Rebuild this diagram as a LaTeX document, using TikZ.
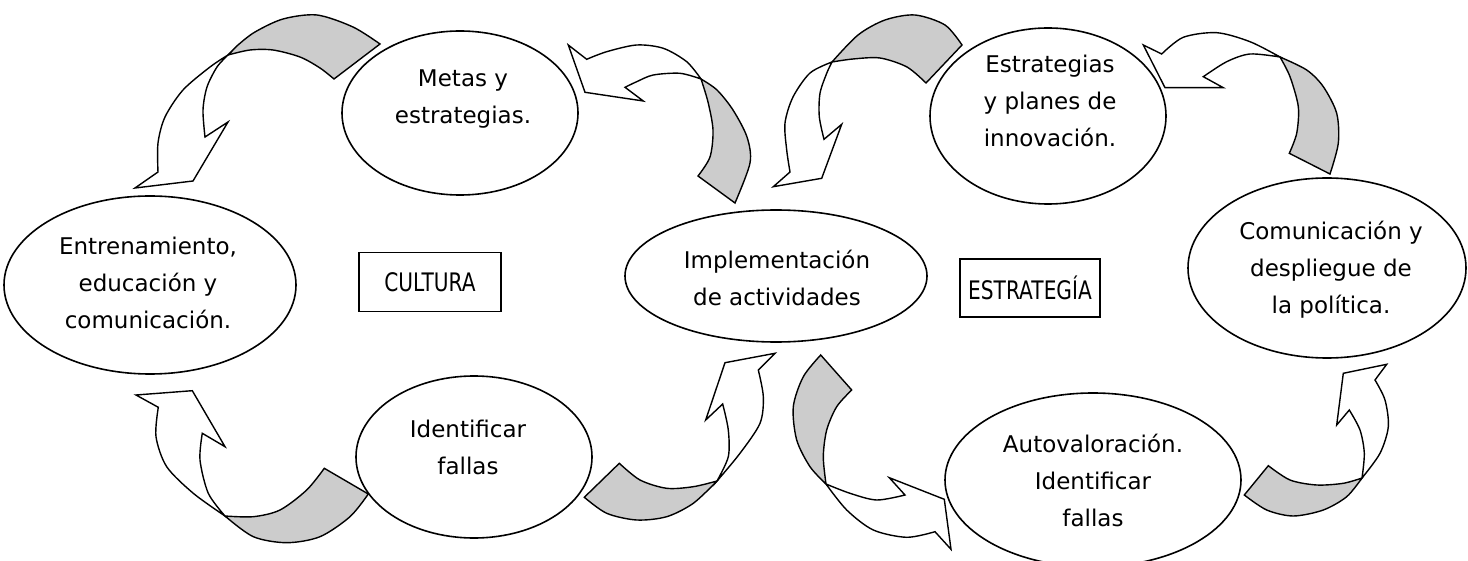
\documentclass[tikz,border=0pt]{standalone}
\usepackage{fontspec}
\setmainfont{DejaVu Sans}
\newfontfamily\headingfont[FakeStretch=0.79]{DejaVu Sans}
\usetikzlibrary{shapes.geometric}
\begin{document}
\begin{tikzpicture}[x=1pt,y=-1pt,
  bubble/.style={draw, line width=1.6pt, ellipse, inner sep=0pt, fill=white},
  bubbletext/.style={align=center, inner sep=0pt, font=\fontsize{23}{37}\selectfont},
  framebox/.style={draw, line width=1.5pt, inner sep=0pt, font=\headingfont\fontsize{25.5}{37}\selectfont},
  band/.style={draw, line width=1.4pt, line join=miter, fill=white},
  backband/.style={band, fill=black!20}]
\useasboundingbox (0,0) rectangle (1468,561);

% ellipses
\node[bubble, minimum width=236pt, minimum height=164pt] (metas)   at (460,113)  {};
\node[bubble, minimum width=292pt, minimum height=178pt] (entren)  at (150,285)  {};
\node[bubble, minimum width=236pt, minimum height=162pt] (fallasA) at (474,457)  {};
\node[bubble, minimum width=302pt, minimum height=132pt] (impl)    at (776,276)  {};
\node[bubble, minimum width=236pt, minimum height=176pt] (estrat)  at (1048,116) {};
\node[bubble, minimum width=278pt, minimum height=180pt] (comun)   at (1327,268) {};
\node[bubble, minimum width=296pt, minimum height=174pt] (auto)    at (1093,480) {};

% texts inside the ellipses
\node[bubbletext] (tMetas)   at (463,99)   {Metas y\\estrategias.};
\node[bubbletext] (tEntren)  at (148,283)  {Entrenamiento,\\educación y\\comunicación.};
\node[bubbletext] (tFallasA) at (468,447)  {Identificar\\fallas};
\node[bubbletext] (tImpl)    at (777,278)  {Implementación\\de actividades};
\node[bubbletext] (tEstrat)  at (1050,101) {Estrategias\\y planes de\\innovación.};
\node[bubbletext] (tComun)   at (1331,270) {Comunicación y\\despliegue de\\la política.};
\node[bubbletext] (tAuto)    at (1093,480) {Autovaloración.\\Identificar\\fallas};

% framed headings
\node[framebox, minimum width=142pt, minimum height=59pt] (cultura) at (430,282) {CULTURA};
\node[framebox, minimum width=140pt, minimum height=58pt] (estrategia) at (1030,288) {ESTRATEGÍA};

% curved block arrows: shaded back band, then white front band with head
% metas -> entren
\filldraw[backband] plot[smooth] coordinates {(380,44) (353,27) (317,15) (283,19) (255,32) (238,45) (228,55)}
  -- plot[smooth] coordinates {(228,55) (250,50) (273,50) (300,57) (320,68) (334,79)} -- cycle;
\filldraw[band] plot[smooth] coordinates {(228,55) (210,67) (183,90) (165,117) (158,143) (158,172)}
  -- (135,188) -- (193,181) -- (228,122) -- (205,137)
  -- plot[smooth] coordinates {(205,137) (203,110) (207,87) (217,67) (228,55)} -- cycle;

% impl -> metas
\filldraw[backband] plot[smooth] coordinates {(735,203) (750,163) (747,137) (733,110) (717,90) (701,79)}
  -- plot[smooth] coordinates {(701,79) (708,102) (713,130) (710,157) (698,176)} -- cycle;
\filldraw[band] plot[smooth] coordinates {(701,79) (686.7,61.7) (663.3,48.3) (636.7,45) (606.7,51.7) (586.7,59.3)}
  -- (568.3,45) -- (585,92.3) -- (643.3,101) -- (625,87.3)
  -- plot[smooth] coordinates {(625,87.3) (636.7,81.7) (653.3,75) (680,73.3) (701,79)} -- cycle;

% estrat -> impl
\filldraw[backband] plot[smooth] coordinates {(962,45) (945,25) (915,15) (885,20) (858,35) (832,62)}
  -- plot[smooth] coordinates {(832,62) (853,59) (880,58) (907,67) (926,83)} -- cycle;
\filldraw[band] plot[smooth] coordinates {(832,62) (810,73) (793,97) (785,123) (786.7,150) (790,172)}
  -- (773.3,186.7) -- (821.7,178.3) -- (841.7,124.3) -- (824,139.3)
  -- plot[smooth] coordinates {(824,139.3) (819.3,116.7) (820,93.3) (826.7,73.3) (832,62)} -- cycle;

% comun -> estrat
\filldraw[backband] plot[smooth] coordinates {(1330,174) (1338.3,143.3) (1336.7,113.3) (1323.3,86.7) (1306.7,70) (1280,57)}
  -- plot[smooth] coordinates {(1280,57) (1290,76.7) (1298.3,106.7) (1296.7,133.3) (1289.3,153.3)} -- cycle;
\filldraw[band] plot[smooth] coordinates {(1280,57) (1250,41.7) (1216.7,32.7) (1183.3,37.3) (1161.7,54)}
  -- (1143.3,45) -- (1165,87.7) -- (1223.3,87.7) -- (1203.3,76.7)
  -- plot[smooth] coordinates {(1203.3,76.7) (1226.7,61.7) (1250,54) (1280,57)} -- cycle;

% auto -> comun
\filldraw[backband] plot[smooth] coordinates {(1244.3,495) (1266.7,510) (1293.3,516) (1323.3,510) (1346.7,496.7) (1362,478)}
  -- plot[smooth] coordinates {(1362,478) (1343.3,483.3) (1316.7,485) (1290,480) (1268.3,465.7)} -- cycle;
\filldraw[band] plot[smooth] coordinates {(1362,478) (1380,453.3) (1388.3,426.7) (1385,400) (1375,380)}
  -- (1386.7,364.3) -- (1343.3,373.3) -- (1336.7,425) -- (1349.3,410)
  -- plot[smooth] coordinates {(1349.3,410) (1360,430) (1364.3,453.3) (1362,478)} -- cycle;

% impl -> auto
\filldraw[backband] plot[smooth] coordinates {(820.7,355) (803.3,376.7) (793.3,406.7) (796.7,440) (810,466.7) (826,484)}
  -- plot[smooth] coordinates {(826,484) (823.3,456.7) (826.7,430) (836.7,406.7) (851.7,390)} -- cycle;
\filldraw[band] plot[smooth] coordinates {(826,484) (846.7,510) (873.3,530) (906.7,537.3) (935,531.7)}
  -- (951,549.3) -- (944.3,499.3) -- (889.3,477.7) -- (905,495)
  -- plot[smooth] coordinates {(905,495) (876.7,500) (850,493.3) (826,484)} -- cycle;

% fallasA -> impl
\filldraw[backband] plot[smooth] coordinates {(584.3,497.3) (606.7,513.3) (636.7,520) (666.7,516.7) (693.3,503.3) (717,481)}
  -- plot[smooth] coordinates {(717,481) (693.3,486.7) (666.7,488.3) (640,480) (619.3,463.3)} -- cycle;
\filldraw[band] plot[smooth] coordinates {(717,481) (740,453.3) (760,423.3) (763.3,396.7) (758.3,370)}
  -- (775,353.3) -- (725,362.7) -- (705.7,420) -- (722.7,404)
  -- plot[smooth] coordinates {(722.7,404) (728.3,430) (728.3,456.7) (717,481)} -- cycle;

% fallasA -> entren
\filldraw[backband] plot[smooth] coordinates {(368.3,494) (350,516.7) (320,536.7) (286.7,542.7) (253.3,536.7) (225,516)}
  -- plot[smooth] coordinates {(225,516) (253.3,516.7) (280,510) (306.7,490) (324.3,468.3)} -- cycle;
\filldraw[band] plot[smooth] coordinates {(225,516) (193.3,493.3) (166.7,466.7) (156,436.7) (158.3,407.3)}
  -- (136,395) -- (192.3,390.7) -- (225,446.7) -- (202.3,433.3)
  -- plot[smooth] coordinates {(202.3,433.3) (200,460) (208.3,493.3) (225,516)} -- cycle;
\end{tikzpicture}
\end{document}
